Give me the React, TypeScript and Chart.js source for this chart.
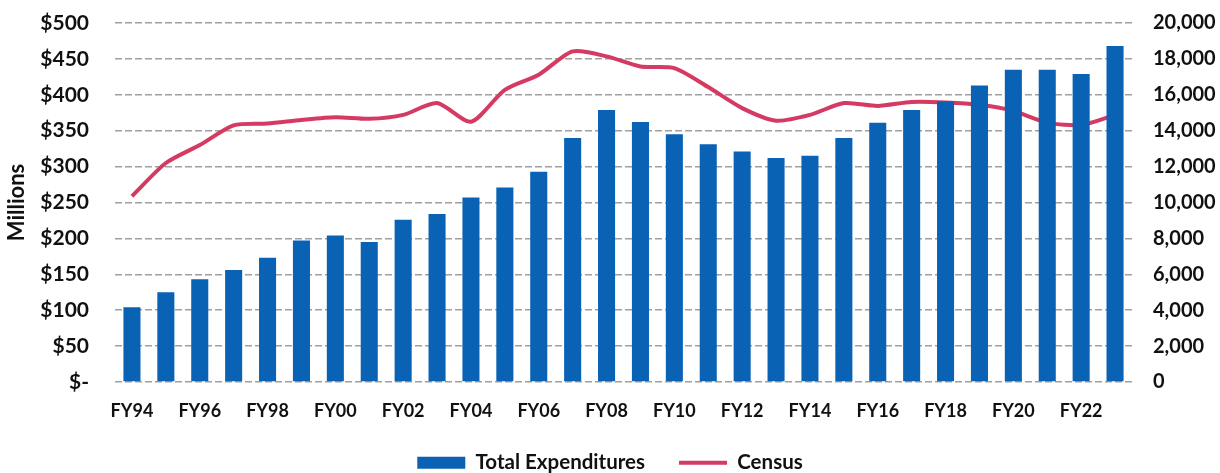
import React, { useEffect, useRef } from "react";
import { Chart, registerables } from "chart.js";

Chart.register(...registerables);

const categories = [
  "FY94", "FY95", "FY96", "FY97", "FY98", "FY99", "FY00", "FY01", "FY02", "FY03",
  "FY04", "FY05", "FY06", "FY07", "FY08", "FY09", "FY10", "FY11", "FY12", "FY13",
  "FY14", "FY15", "FY16", "FY17", "FY18", "FY19", "FY20", "FY21", "FY22", "FY23",
];

// Total expenditures, $ millions (left axis)
const totalExpenditures = [
  104, 125, 143, 156, 173, 197, 204, 195, 226, 234,
  257, 271, 293, 340, 379, 362, 345, 331, 321, 312,
  315, 340, 361, 379, 391, 413, 435, 435, 429, 468,
];

// Census (right axis)
const census = [
  10350, 12200, 13200, 14300, 14400, 14600, 14750, 14660, 14880, 15540,
  14500, 16280, 17120, 18420, 18140, 17580, 17490, 16430, 15260, 14560,
  14880, 15540, 15380, 15600, 15570, 15440, 15100, 14450, 14320, 14880,
];

const leftTicks = [0, 50, 100, 150, 200, 250, 300, 350, 400, 450, 500];
const rightTicks = [0, 2000, 4000, 6000, 8000, 10000, 12000, 14000, 16000, 18000, 20000];

const BAR_COLOR = "#0a62b4";
const LINE_COLOR = "#d43a62";
const FONT = "Lato, 'Open Sans', sans-serif";

export default function App() {
  const ref = useRef<HTMLCanvasElement | null>(null);

  useEffect(() => {
    if (!ref.current) return;
    const chart = new Chart(ref.current, {
      type: "bar",
      data: {
        labels: categories,
        datasets: [
          {
            type: "bar",
            label: "Total Expenditures",
            data: totalExpenditures,
            backgroundColor: BAR_COLOR,
            borderWidth: 0,
            yAxisID: "y",
            order: 1,
            barPercentage: 0.74,
            categoryPercentage: 0.68,
            pointStyle: "rect",
          } as any,
          {
            type: "line",
            label: "Census",
            data: census,
            borderColor: LINE_COLOR,
            backgroundColor: LINE_COLOR,
            borderWidth: 4,
            pointRadius: 0,
            tension: 0.25,
            yAxisID: "y1",
            order: 2,
            pointStyle: "line",
          } as any,
        ],
      },
      options: {
        animation: false,
        responsive: true,
        maintainAspectRatio: false,
        layout: { padding: { top: 23, left: 0, right: 0, bottom: -10 } },
        plugins: {
          tooltip: { enabled: false },
          legend: {
            position: "bottom",
            labels: {
              usePointStyle: true,
              pointStyleWidth: 48,
              boxHeight: 12,
              padding: 34,
              color: "#111",
              font: { family: FONT, size: 20.5, weight: "bold" },
            },
          },
        },
        scales: {
          x: {
            grid: { display: false, drawTicks: false },
            border: { display: false },
            afterFit: (s: any) => {
              s.height = 36.5;
            },
            ticks: {
              autoSkip: false,
              maxRotation: 0,
              padding: 18,
              color: "#111",
              font: { family: FONT, size: 18, weight: "bold" },
              callback: (_v: any, i: number) => (i % 2 === 0 ? categories[i] : ""),
            },
          },
          y: {
            position: "left",
            min: 0,
            max: 500,
            afterBuildTicks: (s: any) => {
              s.ticks = leftTicks.map((v) => ({ value: v }));
            },
            afterFit: (s: any) => {
              s.width = 115;
              s.paddingTop = 0;
              s.paddingBottom = 0;
            },
            grid: { color: "#a0a0a0", lineWidth: 1.5, drawTicks: false },
            border: { display: false, dash: [7, 3] },
            ticks: {
              padding: 26,
              color: "#111",
              font: { family: FONT, size: 21, weight: "bold" },
              callback: (v: any) => (Number(v) === 0 ? "$-" : "$" + v),
            },
            title: {
              display: true,
              text: "Millions",
              color: "#111",
              font: { family: FONT, size: 22, weight: "bold" },
              padding: { top: 4, bottom: 4 },
            },
          },
          y1: {
            position: "right",
            min: 0,
            max: 20000,
            afterBuildTicks: (s: any) => {
              s.ticks = rightTicks.map((v) => ({ value: v }));
            },
            afterFit: (s: any) => {
              s.width = 88;
              s.paddingTop = 0;
              s.paddingBottom = 0;
            },
            grid: { drawOnChartArea: false, drawTicks: false },
            border: { display: false },
            ticks: {
              padding: 21,
              color: "#111",
              font: { family: FONT, size: 20, weight: "bold" },
              callback: (v: any) => Number(v).toLocaleString("en-US"),
            },
          },
        },
      } as any,
    });
    return () => chart.destroy();
  }, []);

  return (
    <div style={{ position: "absolute", left: 0, top: 0, width: 1220, height: 473, background: "#fff" }}>
      <canvas ref={ref} />
    </div>
  );
}
